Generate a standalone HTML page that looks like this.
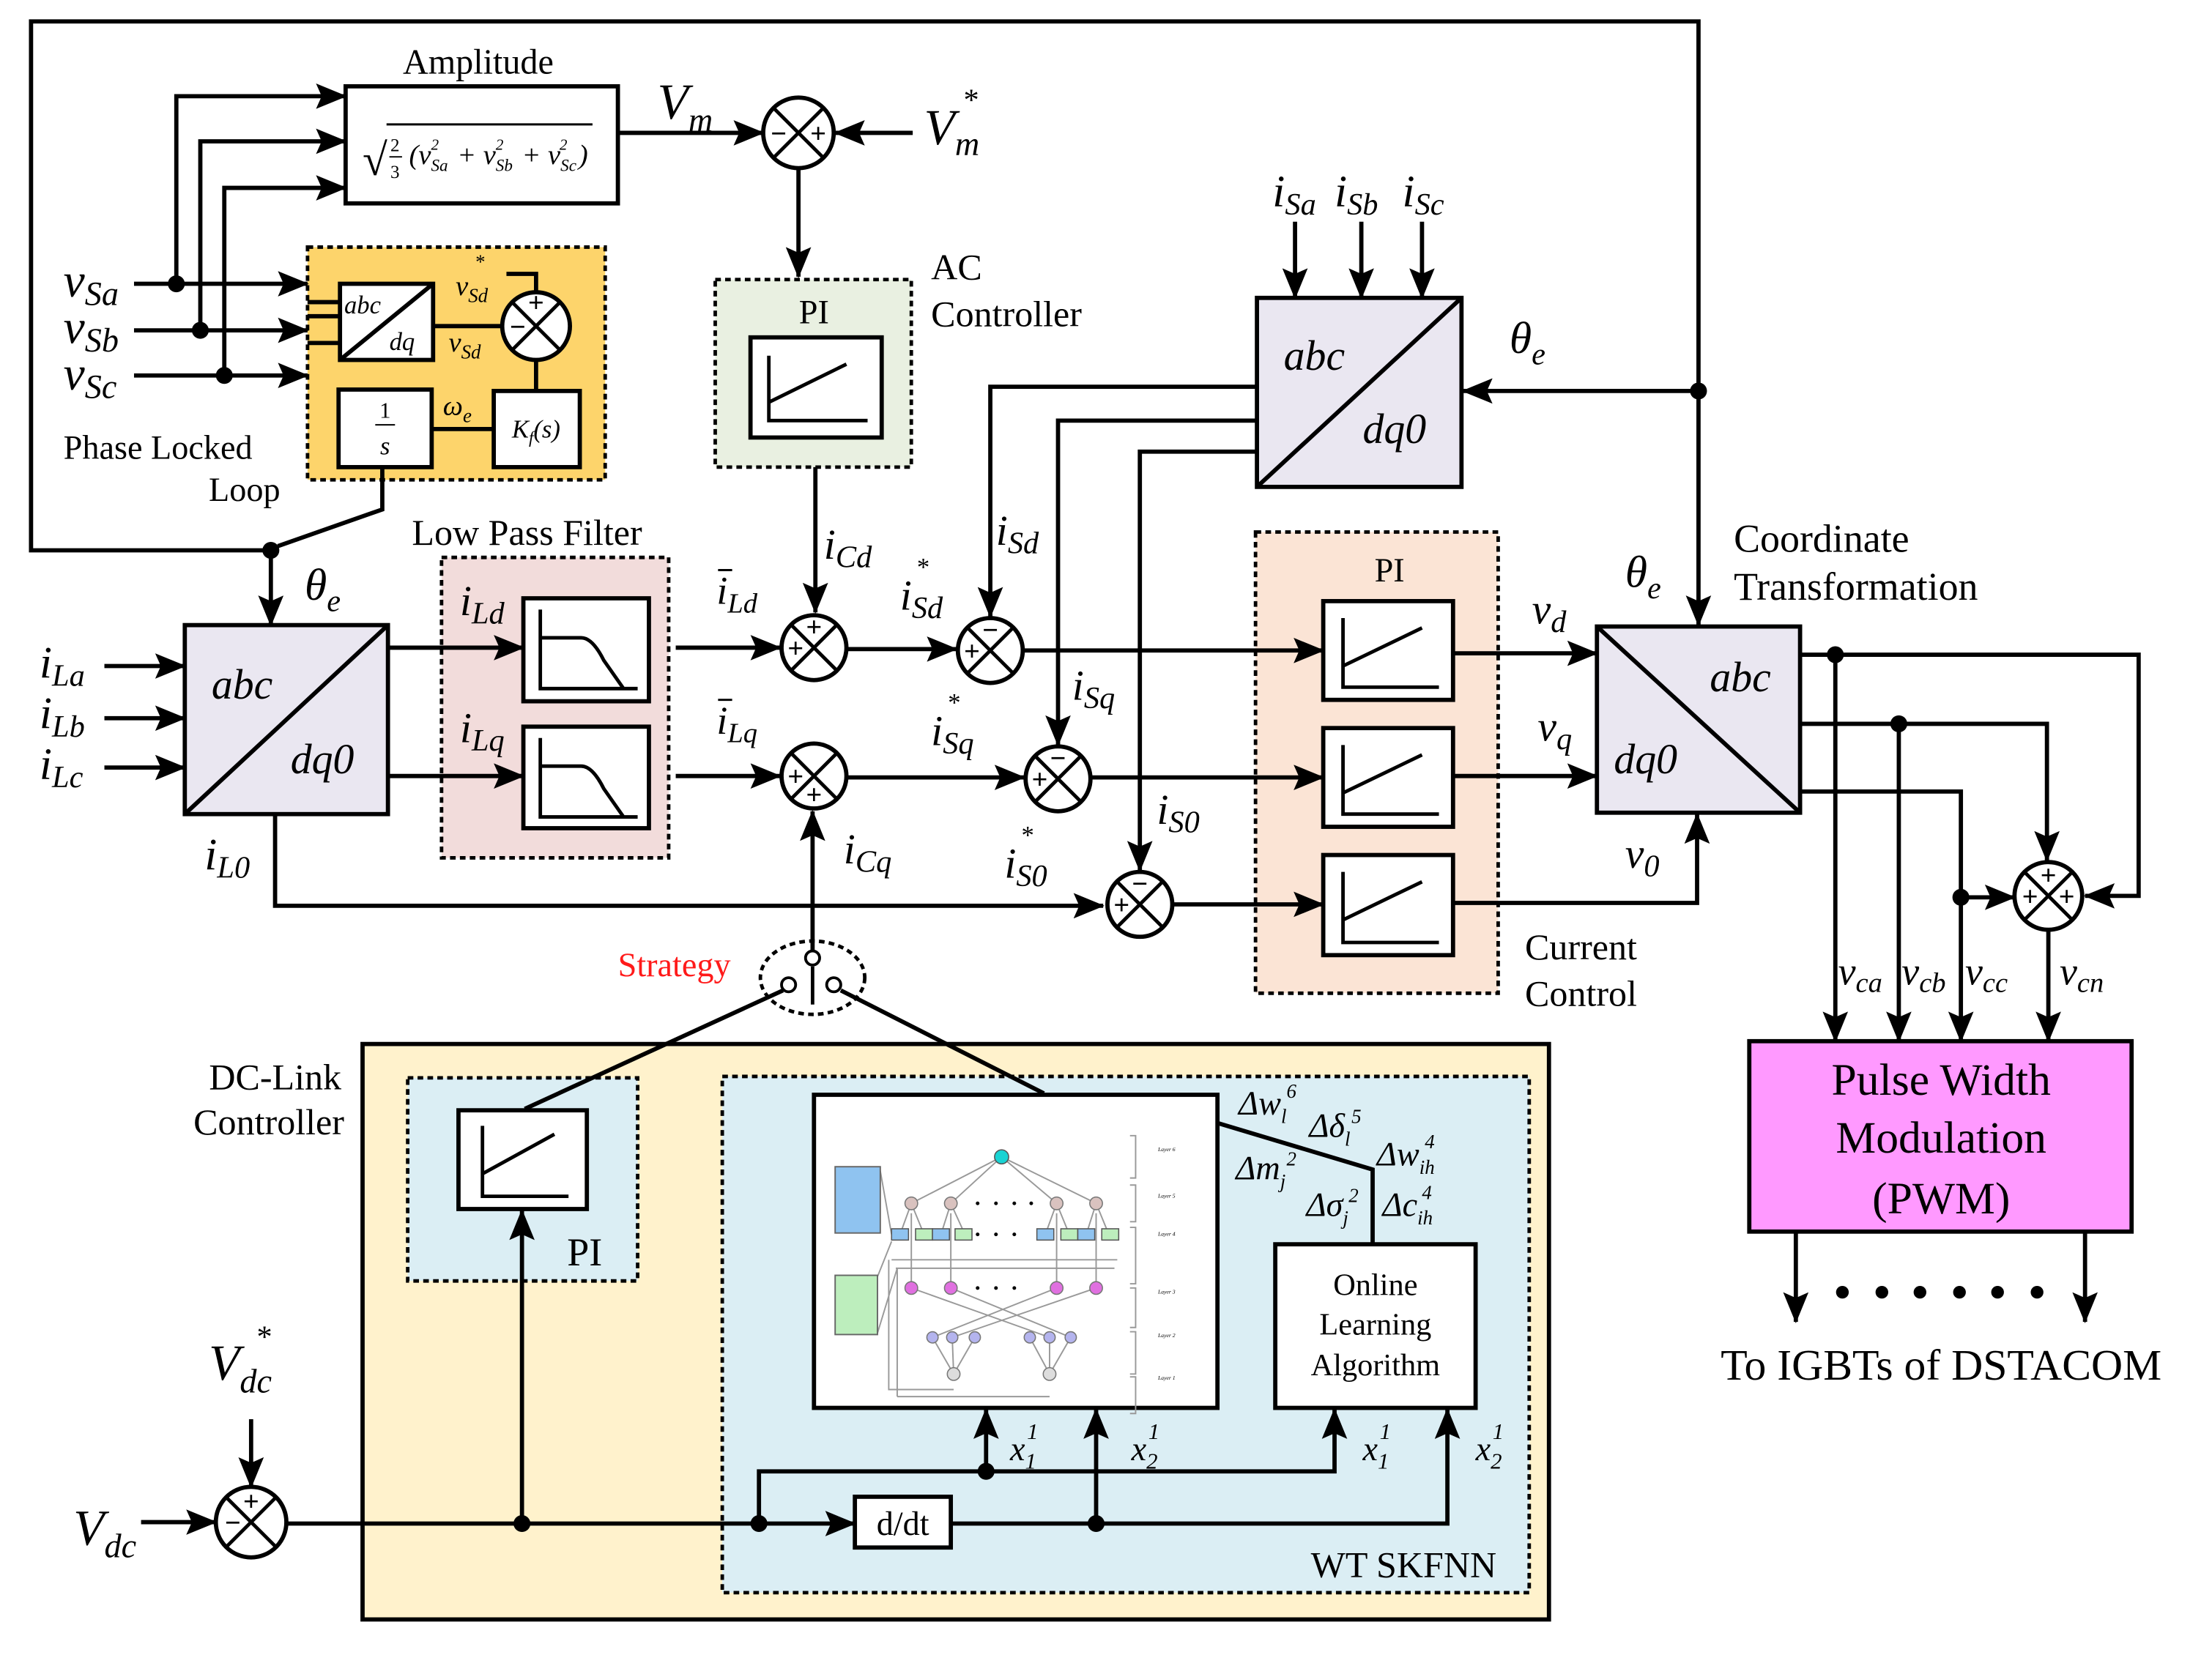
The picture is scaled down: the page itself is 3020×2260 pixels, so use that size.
<!DOCTYPE html>
<html><head><meta charset="utf-8"><style>
html,body{margin:0;padding:0;background:#fff}
svg{display:block}
svg text{font-family:"Liberation Serif","DejaVu Serif","Times New Roman",serif;fill:#000}
.i{font-style:italic}
</style></head><body>
<svg xmlns="http://www.w3.org/2000/svg" width="3020" height="2260" viewBox="0 0 1568 1173" font-family="Liberation Serif, DejaVu Serif, serif">
<defs>
<marker id="a" markerUnits="userSpaceOnUse" markerWidth="22" markerHeight="18" refX="21" refY="9" orient="auto"><path d="M0,0 L22,9 L0,18 L4,9 z" fill="#000"/></marker>
</defs>
<rect width="1568" height="1173" fill="#fff"/>

<rect x="218" y="175" width="211" height="165" fill="#fdd46b" stroke="#000" stroke-width="2.5" stroke-dasharray="4,3"/>
<rect x="507" y="198" width="139" height="133" fill="#e9f0e1" stroke="#000" stroke-width="2.5" stroke-dasharray="4,3"/>
<rect x="313" y="395" width="161" height="213" fill="#f2dcdb" stroke="#000" stroke-width="2.5" stroke-dasharray="4,3"/>
<rect x="890" y="377" width="172" height="327" fill="#fbe4d5" stroke="#000" stroke-width="2.5" stroke-dasharray="4,3"/>
<rect x="257" y="740" width="841" height="408" fill="#fff2cc" stroke="#000" stroke-width="3"/>
<rect x="289" y="764" width="163" height="144" fill="#dbeef4" stroke="#000" stroke-width="2.5" stroke-dasharray="4,3"/>
<rect x="512" y="763" width="572" height="366" fill="#dbeef4" stroke="#000" stroke-width="2.5" stroke-dasharray="4,3"/>
<rect x="1240" y="738" width="271" height="135" fill="#ff99ff" stroke="#000" stroke-width="3"/>

<g stroke="#000" stroke-width="3" fill="none">
<polyline points="192,390 22,390 22,15 1204,15 1204,443" marker-end="url(#a)"/>
<line x1="1204" y1="277" x2="1037" y2="277" marker-end="url(#a)"/>
<polyline points="271,331 271,361 197,387"/>
<line x1="192" y1="390" x2="192" y2="443" marker-end="url(#a)"/>
<line x1="95" y1="201" x2="218" y2="201" marker-end="url(#a)"/>
<line x1="95" y1="234" x2="218" y2="234" marker-end="url(#a)"/>
<line x1="95" y1="266" x2="218" y2="266" marker-end="url(#a)"/>
<polyline points="125,201 125,68 245,68" marker-end="url(#a)"/>
<polyline points="142,234 142,100 245,100" marker-end="url(#a)"/>
<polyline points="159,266 159,133 245,133" marker-end="url(#a)"/>
<rect x="245" y="61" width="193" height="83" fill="#fff"/>
<line x1="438" y1="94" x2="541" y2="94" marker-end="url(#a)"/>
<line x1="647" y1="94" x2="592" y2="94" marker-end="url(#a)"/>
<line x1="566" y1="119" x2="566" y2="196" marker-end="url(#a)"/>
<line x1="218" y1="214" x2="241" y2="214"/><line x1="218" y1="224" x2="241" y2="224"/><line x1="218" y1="243" x2="241" y2="243"/>
<rect x="241" y="201" width="66" height="54" fill="#fff"/>
<line x1="241" y1="255" x2="307" y2="201"/>
<line x1="307" y1="231" x2="356" y2="231"/>
<polyline points="359,194 380,194 380,207"/>
<line x1="380" y1="255" x2="380" y2="277"/>
<rect x="350" y="277" width="61" height="54" fill="#fff"/>
<rect x="240" y="276" width="66" height="55" fill="#fff"/>
<line x1="306" y1="304" x2="350" y2="304"/>
<rect x="532" y="239" width="93" height="71" fill="#fff"/>
<line x1="578" y1="331" x2="578" y2="434" marker-end="url(#a)"/>
<line x1="74" y1="472" x2="131" y2="472" marker-end="url(#a)"/>
<line x1="74" y1="509" x2="131" y2="509" marker-end="url(#a)"/>
<line x1="74" y1="544" x2="131" y2="544" marker-end="url(#a)"/>
<rect x="131" y="443" width="144" height="134" fill="#eae7f1"/>
<line x1="131" y1="577" x2="275" y2="443"/>
<line x1="275" y1="459" x2="371" y2="459" marker-end="url(#a)"/>
<line x1="275" y1="550" x2="371" y2="550" marker-end="url(#a)"/>
<polyline points="195,577 195,642 782,642" marker-end="url(#a)"/>
<rect x="371" y="424" width="89" height="73" fill="#fff"/>
<rect x="371" y="515" width="89" height="72" fill="#fff"/>
<line x1="479" y1="459" x2="553" y2="459" marker-end="url(#a)"/>
<line x1="479" y1="550" x2="553" y2="550" marker-end="url(#a)"/>
<line x1="600" y1="460" x2="678" y2="460" marker-end="url(#a)"/>
<line x1="600" y1="551" x2="726" y2="551" marker-end="url(#a)"/>
<line x1="576" y1="677" x2="576" y2="575" marker-end="url(#a)"/>
<line x1="918" y1="157" x2="918" y2="211" marker-end="url(#a)"/>
<line x1="965" y1="157" x2="965" y2="211" marker-end="url(#a)"/>
<line x1="1008" y1="157" x2="1008" y2="211" marker-end="url(#a)"/>
<rect x="891" y="211" width="145" height="134" fill="#eae7f1"/>
<line x1="891" y1="345" x2="1036" y2="211"/>
<polyline points="891,274 702,274 702,437" marker-end="url(#a)"/>
<polyline points="891,298 750,298 750,528" marker-end="url(#a)"/>
<polyline points="891,320 808,320 808,617" marker-end="url(#a)"/>
<line x1="725" y1="461" x2="938" y2="461" marker-end="url(#a)"/>
<line x1="773" y1="551" x2="938" y2="551" marker-end="url(#a)"/>
<line x1="831" y1="641" x2="938" y2="641" marker-end="url(#a)"/>
<rect x="938" y="426" width="92" height="70" fill="#fff"/>
<rect x="938" y="516" width="92" height="70" fill="#fff"/>
<rect x="938" y="606" width="92" height="71" fill="#fff"/>
<line x1="1030" y1="463" x2="1132" y2="463" marker-end="url(#a)"/>
<line x1="1030" y1="550" x2="1132" y2="550" marker-end="url(#a)"/>
<polyline points="1030,640 1203,640 1203,577" marker-end="url(#a)"/>
<rect x="1132" y="444" width="144" height="132" fill="#eae7f1"/>
<line x1="1132" y1="444" x2="1276" y2="576"/>
<polyline points="1276,464 1516,464 1516,635 1478,635" marker-end="url(#a)"/>
<polyline points="1276,513 1451,513 1451,610" marker-end="url(#a)"/>
<polyline points="1276,561 1390,561 1390,738" marker-end="url(#a)"/>
<line x1="1390" y1="636" x2="1428" y2="636" marker-end="url(#a)"/>
<line x1="1301" y1="464" x2="1301" y2="738" marker-end="url(#a)"/>
<line x1="1346" y1="513" x2="1346" y2="738" marker-end="url(#a)"/>
<line x1="1452" y1="660" x2="1452" y2="738" marker-end="url(#a)"/>
<line x1="1273" y1="873" x2="1273" y2="937" marker-end="url(#a)"/>
<line x1="1478" y1="873" x2="1478" y2="937" marker-end="url(#a)"/>
<ellipse cx="576" cy="693" rx="37" ry="26" stroke-width="2.5" stroke-dasharray="4,3"/>
<line x1="576" y1="685" x2="576" y2="712" stroke-width="2.5"/>
<line x1="555" y1="702" x2="372" y2="786"/>
<line x1="596" y1="702" x2="740" y2="775"/>
<rect x="325" y="787" width="91" height="70" fill="#fff"/>
<line x1="178" y1="1006" x2="178" y2="1054" marker-end="url(#a)"/>
<line x1="100" y1="1079" x2="153" y2="1079" marker-end="url(#a)"/>
<line x1="203" y1="1080" x2="606" y2="1080" marker-end="url(#a)"/>
<line x1="370" y1="1080" x2="370" y2="858" marker-end="url(#a)"/>
<polyline points="538,1080 538,1043 946,1043 946,999" marker-end="url(#a)"/>
<line x1="699" y1="1043" x2="699" y2="999" marker-end="url(#a)"/>
<polyline points="674,1080 1026,1080 1026,999" marker-end="url(#a)"/>
<line x1="777" y1="1080" x2="777" y2="999" marker-end="url(#a)"/>
<rect x="606" y="1061" width="68" height="36" fill="#fff"/>
<rect x="577" y="776" width="286" height="222" fill="#fff"/>
<polyline points="863,796 973,829 973,882"/>
<rect x="904" y="882" width="142" height="116" fill="#fff"/>
</g>

<g stroke="#000" stroke-width="2.5" fill="none">
<path d="M545,252 V298 H615 M545,285 L600,258"/>
<path d="M952,438 V487 H1020 M952,472 L1008,445"/>
<path d="M952,528 V577 H1020 M952,562 L1008,535"/>
<path d="M952,618 V668 H1020 M952,652 L1008,625"/>
<path d="M342,798 V848 H403 M342,832 L393,804"/>
<path d="M383,432 V488 H452 M383,452 H412 Q420,452 428,468 L442,488"/>
<path d="M383,523 V579 H452 M383,543 H412 Q420,543 428,559 L442,579"/>
</g>

<g stroke="#000" stroke-width="3" fill="#fff">
<circle cx="566" cy="94" r="25"/><circle cx="380" cy="231" r="24"/>
<circle cx="577" cy="459" r="23"/><circle cx="702" cy="461" r="23"/>
<circle cx="577" cy="550" r="23"/><circle cx="750" cy="552" r="23"/>
<circle cx="808" cy="641" r="23"/><circle cx="1452" cy="635" r="24"/>
<circle cx="178" cy="1079" r="25"/>
</g>
<g stroke="#000" stroke-width="2.5">
<path d="M548,76 L584,112 M584,76 L548,112"/>
<path d="M363,214 L397,248 M397,214 L363,248"/>
<path d="M561,443 L593,475 M593,443 L561,475"/>
<path d="M686,445 L718,477 M718,445 L686,477"/>
<path d="M561,534 L593,566 M593,534 L561,566"/>
<path d="M734,536 L766,568 M766,536 L734,568"/>
<path d="M792,625 L824,657 M824,625 L792,657"/>
<path d="M1435,618 L1469,652 M1469,618 L1435,652"/>
<path d="M160,1061 L196,1097 M196,1061 L160,1097"/>
</g>
<g font-size="20" font-weight="bold" text-anchor="middle">
<text x="552" y="101">−</text><text x="580" y="101">+</text>
<text x="380" y="221">+</text><text x="367" y="238">−</text>
<text x="577" y="451">+</text><text x="564" y="466">+</text>
<text x="702" y="453">−</text><text x="689" y="468">+</text>
<text x="564" y="557">+</text><text x="577" y="570">+</text>
<text x="750" y="544">−</text><text x="737" y="559">+</text>
<text x="808" y="633">−</text><text x="795" y="648">+</text>
<text x="1452" y="627">+</text><text x="1439" y="642">+</text><text x="1465" y="642">+</text>
<text x="178" y="1071">+</text><text x="165" y="1086">−</text>
</g>

<g fill="#000">
<circle cx="125" cy="201" r="6"/><circle cx="142" cy="234" r="6"/><circle cx="159" cy="266" r="6"/>
<circle cx="192" cy="390" r="6"/><circle cx="1204" cy="277" r="6"/>
<circle cx="1301" cy="464" r="6"/><circle cx="1346" cy="513" r="6"/><circle cx="1390" cy="636" r="6"/>
<circle cx="370" cy="1080" r="6"/><circle cx="538" cy="1080" r="6"/><circle cx="699" cy="1043" r="6"/><circle cx="777" cy="1080" r="6"/>
<circle cx="1306" cy="916" r="4.5"/><circle cx="1334" cy="916" r="4.5"/><circle cx="1361" cy="916" r="4.5"/><circle cx="1389" cy="916" r="4.5"/><circle cx="1416" cy="916" r="4.5"/><circle cx="1444" cy="916" r="4.5"/>
</g>
<g fill="#fff" stroke="#000" stroke-width="2">
<circle cx="576" cy="679" r="5"/><circle cx="559" cy="698" r="5"/><circle cx="591" cy="698" r="5"/>
</g>

<g stroke="#999" stroke-width="1" fill="none">
<path d="M710,820 L646,853 M710,820 L674,853 M710,820 L749,853 M710,820 L777,853"/>
<path d="M646,853 L638,875 M646,853 L655,875 M674,853 L667,875 M674,853 L684,875 M749,853 L741,875 M749,853 L758,875 M777,853 L770,875 M777,853 L786,875"/>
<path d="M632,893 H792 M635,899 H790 M636,899 V990 M630,893 V985 H676 M636,990 H744"/>
<path d="M646,860 V913 M674,860 V913 M749,860 V913 M777,860 V913"/>
<path d="M646,913 L744,948 M674,913 L759,948 M749,913 L661,948 M777,913 L675,948 M661,948 L676,974 M675,948 L676,974 M691,948 L676,974 M730,948 L744,974 M744,948 L744,974 M759,948 L744,974"/>
<path d="M624,830 L632,875 M622,905 L632,880 M622,945 L636,899"/>
<path d="M801,805 h4 v30 h-4 M801,840 h4 v26 h-4 M801,870 h4 v40 h-4 M801,913 h4 v28 h-4 M801,944 h4 v30 h-4 M801,976 h4 v26 h-4"/>
</g>
<rect x="592" y="827" width="32" height="47" fill="#8fc3f0" stroke="#666" stroke-width="1"/>
<rect x="592" y="904" width="30" height="42" fill="#bdeebd" stroke="#666" stroke-width="1"/>
<circle cx="710" cy="820" r="5" fill="#19d3d3" stroke="#555" stroke-width="0.8"/>
<g fill="#d9c2bf" stroke="#777" stroke-width="0.8"><circle cx="646" cy="853" r="4.5"/><circle cx="674" cy="853" r="4.5"/><circle cx="749" cy="853" r="4.5"/><circle cx="777" cy="853" r="4.5"/></g>
<g stroke="#555" stroke-width="0.8"><rect x="632" y="871" width="12" height="8" fill="#8fc3f0"/><rect x="649" y="871" width="12" height="8" fill="#bdeebd"/><rect x="661" y="871" width="12" height="8" fill="#8fc3f0"/><rect x="677" y="871" width="12" height="8" fill="#bdeebd"/><rect x="735" y="871" width="12" height="8" fill="#8fc3f0"/><rect x="752" y="871" width="12" height="8" fill="#bdeebd"/><rect x="764" y="871" width="12" height="8" fill="#8fc3f0"/><rect x="781" y="871" width="12" height="8" fill="#bdeebd"/></g>
<g fill="#e070e0" stroke="#777" stroke-width="0.8"><circle cx="646" cy="913" r="4.5"/><circle cx="674" cy="913" r="4.5"/><circle cx="749" cy="913" r="4.5"/><circle cx="777" cy="913" r="4.5"/></g>
<g fill="#b4b4ee" stroke="#777" stroke-width="0.8"><circle cx="661" cy="948" r="4"/><circle cx="675" cy="948" r="4"/><circle cx="691" cy="948" r="4"/><circle cx="730" cy="948" r="4"/><circle cx="744" cy="948" r="4"/><circle cx="759" cy="948" r="4"/></g>
<g fill="#ddd" stroke="#777" stroke-width="0.8"><circle cx="676" cy="974" r="4.5"/><circle cx="744" cy="974" r="4.5"/></g>
<g fill="#000"><circle cx="693" cy="853" r="1.3"/><circle cx="706" cy="853" r="1.3"/><circle cx="719" cy="853" r="1.3"/><circle cx="731" cy="853" r="1.3"/><circle cx="693" cy="875" r="1.3"/><circle cx="706" cy="875" r="1.3"/><circle cx="719" cy="875" r="1.3"/><circle cx="693" cy="913" r="1.3"/><circle cx="706" cy="913" r="1.3"/><circle cx="719" cy="913" r="1.3"/></g>
<g font-size="4" font-style="italic" text-anchor="middle">
<text x="827" y="816" fill="#555">Layer 6</text><text x="827" y="849" fill="#555">Layer 5</text><text x="827" y="876" fill="#555">Layer 4</text><text x="827" y="917" fill="#555">Layer 3</text><text x="827" y="948" fill="#555">Layer 2</text><text x="827" y="978" fill="#555">Layer 1</text>
</g>

<text x="339" y="52" font-size="25" text-anchor="middle">Amplitude</text>
<text x="257" y="124" font-size="32">√</text>
<line x1="274" y1="88" x2="420" y2="88" stroke="#000" stroke-width="1.5"/>
<text x="280" y="107" font-size="13" text-anchor="middle">2</text><line x1="276" y1="111" x2="285" y2="111" stroke="#000" stroke-width="1"/><text x="280" y="126" font-size="13" text-anchor="middle">3</text>
<text x="290" y="116" font-size="20" class="i">(v<tspan font-size="12" dy="5">Sa</tspan><tspan font-size="11" dx="-12" dy="-15">2</tspan><tspan dx="8" dy="10"> + v</tspan><tspan font-size="12" dy="5">Sb</tspan><tspan font-size="11" dx="-12" dy="-15">2</tspan><tspan dx="8" dy="10"> + v</tspan><tspan font-size="12" dy="5">Sc</tspan><tspan font-size="11" dx="-12" dy="-15">2</tspan><tspan dx="8" dy="10">)</tspan></text>
<text x="466" y="84" font-size="36" class="i">V<tspan font-size="24" dy="9">m</tspan></text>
<text x="655" y="102" font-size="36" class="i">V<tspan font-size="24" dy="8">m</tspan></text><text x="683" y="78" font-size="22">*</text>
<text x="45" y="210" font-size="34" class="i">v<tspan font-size="24" dy="6">Sa</tspan></text>
<text x="45" y="243" font-size="34" class="i">v<tspan font-size="24" dy="6">Sb</tspan></text>
<text x="45" y="276" font-size="34" class="i">v<tspan font-size="24" dy="6">Sc</tspan></text>
<text x="244" y="222" font-size="18" class="i">abc</text><text x="276" y="248" font-size="18" class="i">dq</text>
<text x="323" y="209" font-size="20" class="i">v<tspan font-size="14" dy="5">Sd</tspan></text><text x="337" y="190" font-size="14">*</text>
<text x="318" y="249" font-size="20" class="i">v<tspan font-size="14" dy="5">Sd</tspan></text>
<text x="314" y="294" font-size="20" class="i">ω<tspan font-size="14" dy="5">e</tspan></text>
<text x="380" y="310" font-size="18" class="i" text-anchor="middle">K<tspan font-size="12" dy="4">f</tspan><tspan dy="-4">(s)</tspan></text>
<text x="273" y="296" font-size="16" text-anchor="middle">1</text><line x1="266" y1="301" x2="280" y2="301" stroke="#000" stroke-width="1"/><text x="273" y="322" font-size="18" class="i" text-anchor="middle">s</text>
<text x="45" y="325" font-size="24">Phase Locked</text>
<text x="148" y="355" font-size="24">Loop</text>
<text x="577" y="229" font-size="24" text-anchor="middle">PI</text>
<text x="660" y="198" font-size="26">AC</text>
<text x="660" y="231" font-size="26">Controller</text>
<text x="292" y="386" font-size="26">Low Pass Filter</text>
<text x="216" y="425" font-size="32" class="i">θ<tspan font-size="22" dy="8">e</tspan></text>
<text x="150" y="495" font-size="30" class="i">abc</text><text x="206" y="548" font-size="30" class="i">dq0</text>
<text x="28" y="480" font-size="32" class="i">i<tspan font-size="22" dy="6">La</tspan></text>
<text x="28" y="516" font-size="32" class="i">i<tspan font-size="22" dy="6">Lb</tspan></text>
<text x="28" y="552" font-size="32" class="i">i<tspan font-size="22" dy="6">Lc</tspan></text>
<text x="145" y="616" font-size="32" class="i">i<tspan font-size="22" dy="6">L0</tspan></text>
<text x="326" y="436" font-size="30" class="i">i<tspan font-size="22" dy="6">Ld</tspan></text>
<text x="326" y="526" font-size="30" class="i">i<tspan font-size="22" dy="6">Lq</tspan></text>
<text x="508" y="428" font-size="28" class="i">i<tspan font-size="20" dy="6">Ld</tspan></text><line x1="509" y1="404" x2="519" y2="404" stroke="#000" stroke-width="1.5"/>
<text x="508" y="520" font-size="28" class="i">i<tspan font-size="20" dy="6">Lq</tspan></text><line x1="509" y1="496" x2="519" y2="496" stroke="#000" stroke-width="1.5"/>
<text x="584" y="396" font-size="30" class="i">i<tspan font-size="22" dy="6">Cd</tspan></text>
<text x="598" y="612" font-size="30" class="i">i<tspan font-size="22" dy="6">Cq</tspan></text>
<text x="638" y="432" font-size="30" class="i">i<tspan font-size="22" dy="6">Sd</tspan></text><text x="650" y="408" font-size="18">*</text>
<text x="706" y="386" font-size="30" class="i">i<tspan font-size="22" dy="6">Sd</tspan></text>
<text x="660" y="528" font-size="30" class="i">i<tspan font-size="22" dy="6">Sq</tspan></text><text x="672" y="504" font-size="18">*</text>
<text x="760" y="496" font-size="30" class="i">i<tspan font-size="22" dy="6">Sq</tspan></text>
<text x="820" y="584" font-size="30" class="i">i<tspan font-size="22" dy="6">S0</tspan></text>
<text x="712" y="622" font-size="30" class="i">i<tspan font-size="22" dy="6">S0</tspan></text><text x="724" y="598" font-size="18">*</text>
<text x="902" y="146" font-size="32" class="i">i<tspan font-size="22" dy="6">Sa</tspan></text>
<text x="946" y="146" font-size="32" class="i">i<tspan font-size="22" dy="6">Sb</tspan></text>
<text x="994" y="146" font-size="32" class="i">i<tspan font-size="22" dy="6">Sc</tspan></text>
<text x="910" y="262" font-size="30" class="i">abc</text><text x="966" y="314" font-size="30" class="i">dq0</text>
<text x="1070" y="250" font-size="32" class="i">θ<tspan font-size="22" dy="8">e</tspan></text>
<text x="985" y="412" font-size="24" text-anchor="middle">PI</text>
<text x="1152" y="416" font-size="32" class="i">θ<tspan font-size="22" dy="8">e</tspan></text>
<text x="1229" y="391" font-size="28">Coordinate</text>
<text x="1229" y="425" font-size="28">Transformation</text>
<text x="1086" y="442" font-size="30" class="i">v<tspan font-size="22" dy="6">d</tspan></text>
<text x="1090" y="525" font-size="30" class="i">v<tspan font-size="22" dy="6">q</tspan></text>
<text x="1152" y="615" font-size="30" class="i">v<tspan font-size="22" dy="6">0</tspan></text>
<text x="1212" y="490" font-size="30" class="i">abc</text><text x="1144" y="548" font-size="30" class="i">dq0</text>
<text x="1081" y="680" font-size="26">Current</text>
<text x="1081" y="713" font-size="26">Control</text>
<text x="1303" y="698" font-size="28" class="i">v<tspan font-size="20" dy="5">ca</tspan></text>
<text x="1348" y="698" font-size="28" class="i">v<tspan font-size="20" dy="5">cb</tspan></text>
<text x="1393" y="698" font-size="28" class="i">v<tspan font-size="20" dy="5">cc</tspan></text>
<text x="1460" y="698" font-size="28" class="i">v<tspan font-size="20" dy="5">cn</tspan></text>
<g font-size="32" text-anchor="middle"><text x="1376" y="776">Pulse Width</text><text x="1376" y="817">Modulation</text><text x="1376" y="860">(PWM)</text></g>
<text x="1376" y="978" font-size="31" text-anchor="middle">To IGBTs of DSTACOM</text>
<text x="478" y="692" font-size="24" text-anchor="middle" style="fill:#ff1a1a">Strategy</text>
<text x="242" y="772" font-size="26" text-anchor="end">DC-Link</text>
<text x="244" y="804" font-size="26" text-anchor="end">Controller</text>
<text x="402" y="897" font-size="28">PI</text>
<text x="148" y="978" font-size="36" class="i">V<tspan font-size="24" dy="9">dc</tspan></text><text x="182" y="955" font-size="22">*</text>
<text x="52" y="1095" font-size="36" class="i">V<tspan font-size="24" dy="9">dc</tspan></text>
<text x="640" y="1088" font-size="24" text-anchor="middle">d/dt</text>
<g font-size="22" text-anchor="middle"><text x="975" y="918">Online</text><text x="975" y="946">Learning</text><text x="975" y="975">Algorithm</text></g>
<text x="995" y="1118" font-size="26" text-anchor="middle">WT SKFNN</text>
<g font-size="24" class="i">
<text x="716" y="1035">x<tspan font-size="16" dy="6">1</tspan></text><text x="728" y="1020" font-size="16">1</text>
<text x="802" y="1035">x<tspan font-size="16" dy="6">2</tspan></text><text x="814" y="1020" font-size="16">1</text>
<text x="966" y="1035">x<tspan font-size="16" dy="6">1</tspan></text><text x="978" y="1020" font-size="16">1</text>
<text x="1046" y="1035">x<tspan font-size="16" dy="6">2</tspan></text><text x="1058" y="1020" font-size="16">1</text>
<text x="878" y="790">Δw<tspan font-size="14" dy="6">l</tspan></text><text x="912" y="778" font-size="14">6</text>
<text x="928" y="806">Δδ<tspan font-size="14" dy="6">l</tspan></text><text x="958" y="796" font-size="14">5</text>
<text x="976" y="826">Δw<tspan font-size="14" dy="6">ih</tspan></text><text x="1010" y="814" font-size="14">4</text>
<text x="876" y="836">Δm<tspan font-size="14" dy="6">j</tspan></text><text x="912" y="826" font-size="14">2</text>
<text x="926" y="862">Δσ<tspan font-size="14" dy="6">j</tspan></text><text x="956" y="852" font-size="14">2</text>
<text x="980" y="862">Δc<tspan font-size="14" dy="6">ih</tspan></text><text x="1008" y="850" font-size="14">4</text>
</g>
</svg>
</body></html>
